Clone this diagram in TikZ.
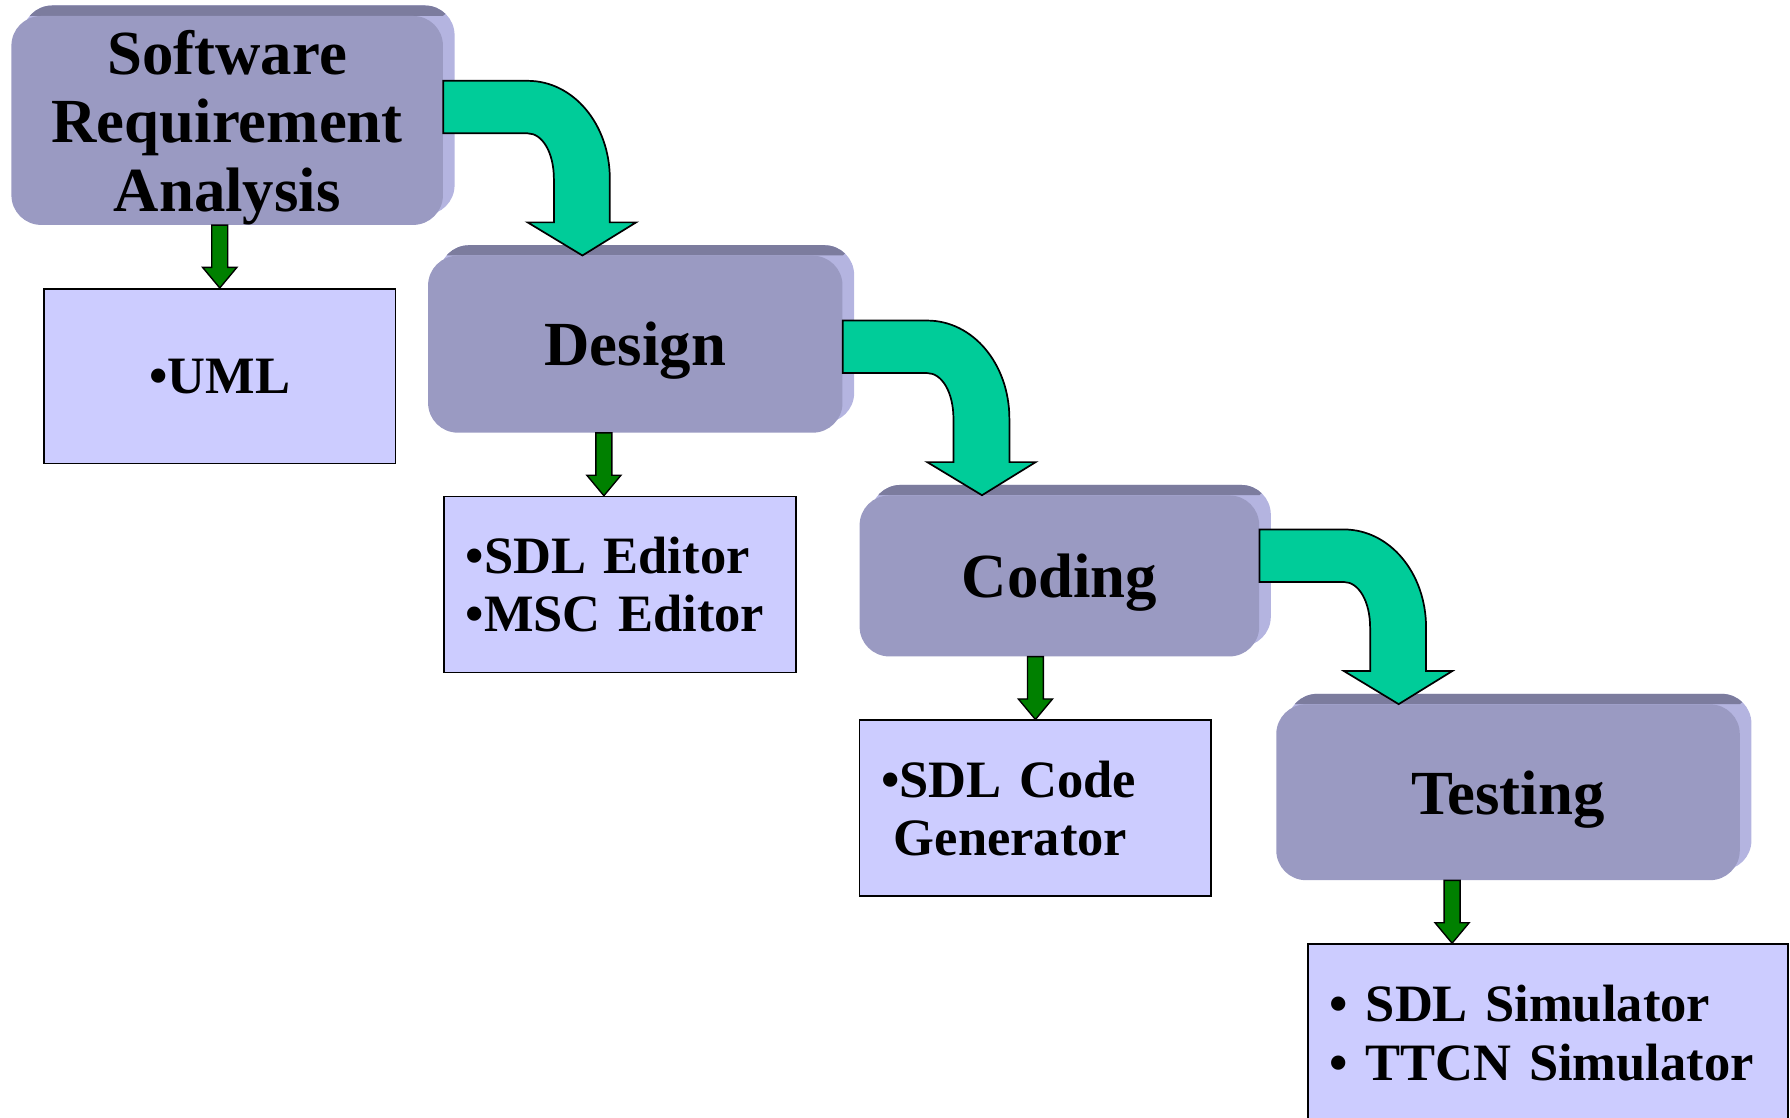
\documentclass[tikz,border=0pt]{standalone}
\usepackage{fontspec}
\setmainfont{Liberation Serif}
\usetikzlibrary{calc,backgrounds}

\definecolor{stagefill}{RGB}{154,154,194}
\definecolor{stagetop}{RGB}{124,124,158}
\definecolor{stageside}{RGB}{180,180,224}
\definecolor{toolfill}{RGB}{204,204,255}
\definecolor{bendfill}{RGB}{0,204,153}
\definecolor{dropfill}{RGB}{0,128,0}

% big bent arrow from stage #1 down onto stage #2
\newcommand{\bendarrow}[2]{%
	\coordinate (o) at (#1.east |- #2.north);
	\begin{scope}[shift={(o)}]
	\filldraw[bendshape] (0,-153) -- (74,-153) .. controls (114,-153) and (146,-115) .. (146,-67)
	   -- (146,-29) -- (169,-29) -- (122,0) -- (74,-29) -- (97,-29) -- (97,-67)
	   .. controls (97,-90) and (87,-107) .. (74,-107) -- (0,-107) -- cycle;
	\end{scope}}

% small arrow from stage #1 to tip #2
\newcommand{\droparrow}[2]{%
	\filldraw[dropshape] (#2) -- ++(15,-18) -- ++(-8,0) -- ($(#2 |- #1.south)+(7,0)$)
	   -- ++(-14,0) -- ($(#2)+(-7,-18)$) -- ++(-8,0) -- cycle;}

\begin{document}
\begin{tikzpicture}[x=1pt,y=-1pt,
	stage/.style={fill=stagefill, rounded corners=26pt, align=center, inner sep=0pt, text depth=0pt,
	   font=\fontsize{55}{60}\selectfont\bfseries},
	tool/.style={draw, line width=1.5pt, fill=toolfill, minimum height=154pt, inner xsep=19pt,
	   text width=270pt, align=left, font=\fontsize{46}{51}\selectfont\bfseries},
	bendshape/.style={fill=bendfill, draw=black, line width=1.5pt, line join=miter},
	dropshape/.style={fill=dropfill, draw=black, line width=1.2pt}]
	\useasboundingbox (0,0) rectangle (1568,979);

	\node[stage, minimum width=378pt, minimum height=183pt] (sra) at (199,105.5) {Software\\Requirement\\Analysis};
	\node[stage, minimum width=363pt, minimum height=155pt] (des) at (556.5,301.5) {Design};
	\node[stage, minimum width=350pt, minimum height=141pt] (cod) at (928,504.5) {Coding};
	\node[stage, minimum width=406pt, minimum height=154pt] (tst) at (1321,694) {Testing};

	\node[tool, align=center, minimum height=153pt] (uml) at (192.5,329.5) {\textbullet UML};
	\node[tool] (dtool) at (543,512) {\textbullet SDL Editor\\\textbullet MSC Editor};
	\node[tool] (ctool) at (907,708) {\textbullet SDL Code\\\hspace*{11pt}Generator};
	\node[tool, text width=382pt, minimum height=156pt] (ttool) at (1356,905)
	   {\textbullet\ SDL Simulator\\\textbullet\ TTCN Simulator};

	% raised edges of the stage boxes
	\begin{pgfonlayer}{background}
	\foreach \s in {sra,des,cod,tst}{
		\fill[stageside, rounded corners=26pt] ($(\s.south west)+(10,-9)$) rectangle ($(\s.north east)+(10,-9)$);
		\begin{scope}
			\clip ($(\s.north west)+(-5,0)$) -- (\s.north east) -- ($(\s.north east)+(25,-23)$)
			   -- ($(\s.north west)+(-5,-23)$) -- cycle;
			\fill[stagetop, rounded corners=26pt] ($(\s.south west)+(10,-9)$) rectangle ($(\s.north east)+(10,-9)$);
		\end{scope}
	}
	\end{pgfonlayer}

	\bendarrow{sra}{des}
	\bendarrow{des}{cod}
	\bendarrow{cod}{tst}

	\coordinate (dtip) at ([xshift=-14pt]dtool.north);
	\coordinate (ttip) at ([xshift=-84pt]ttool.north);
	\droparrow{sra}{uml.north}
	\droparrow{des}{dtip}
	\droparrow{cod}{ctool.north}
	\droparrow{tst}{ttip}
\end{tikzpicture}
\end{document}
